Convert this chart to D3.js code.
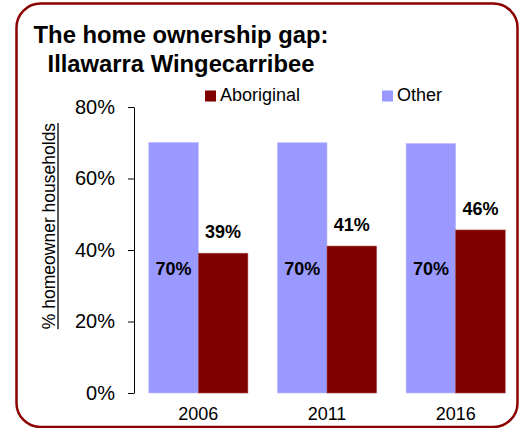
<!DOCTYPE html>
<html><head><meta charset="utf-8">
<script src="https://cdn.jsdelivr.net/npm/d3@7"></script>
<style>html,body{margin:0;padding:0;background:#fff;}svg{display:block;font-family:"Liberation Sans",Arial,Helvetica,sans-serif;}</style>
</head><body>
<svg id="c" width="528" height="428"></svg>
<script>
const years = ["2006", "2011", "2016"];
const seriesNames = ["Other", "Aboriginal"];
const otherValues = [70.1, 70.0, 69.8];
const aboriginalValues = [39.1, 41.1, 45.6];
const otherLabels = ["70%", "70%", "70%"];
const aboriginalLabels = ["39%", "41%", "46%"];
const yTicks = [0, 20, 40, 60, 80];
const titleLines = ["The home ownership gap:", "Illawarra Wingecarribee"];
const yTitle = "% homeowner households";
const colors = {Other: "#9999FF", Aboriginal: "#800000"};

const svg = d3.select("#c");
// frame
svg.append("rect").attr("x", 16.5).attr("y", 3.5).attr("width", 501).attr("height", 423.5)
  .attr("rx", 24).attr("ry", 24).attr("fill", "#fff").attr("stroke", "#8B0000").attr("stroke-width", 2.5);

// title
svg.append("text").attr("x", 181).attr("y", 43).attr("text-anchor", "middle")
  .attr("font-weight", "bold").attr("font-size", 23.8).text(titleLines[0]);
svg.append("text").attr("x", 181).attr("y", 72).attr("text-anchor", "middle")
  .attr("font-weight", "bold").attr("font-size", 23.8).text(titleLines[1]);

const y = d3.scaleLinear().domain([0, 80]).range([393, 107]);
const x0 = d3.scaleBand().domain(years).range([134, 520]).paddingInner(0.23).paddingOuter(0.115);
const x1 = d3.scaleBand().domain(seriesNames).range([0, x0.bandwidth()]);

const data = years.map((yr, i) => ({year: yr, vals: [
  {s: "Other", v: otherValues[i], label: otherLabels[i]},
  {s: "Aboriginal", v: aboriginalValues[i], label: aboriginalLabels[i]}]}));

const g = svg.append("g");
const grp = g.selectAll("g.grp").data(data).join("g").attr("class", "grp")
  .attr("transform", d => `translate(${x0(d.year)},0)`);
grp.selectAll("rect").data(d => d.vals).join("rect")
  .attr("x", d => x1(d.s)).attr("width", x1.bandwidth())
  .attr("y", d => y(d.v)).attr("height", d => y(0) - y(d.v))
  .attr("fill", d => colors[d.s])
  .attr("stroke", d => d.s === "Other" ? "#BBBBFF" : "#A04040").attr("stroke-width", 0.6);
grp.selectAll("text").data(d => d.vals).join("text")
  .attr("x", d => x1(d.s) + x1.bandwidth() / 2)
  .attr("y", d => d.s === "Other" ? (y(0) + y(d.v)) / 2 + 7 : y(d.v) - 15)
  .attr("text-anchor", "middle").attr("font-weight", "bold").attr("font-size", 18)
  .attr("fill", "#000").text(d => d.label);

// y axis
const ya = svg.append("g").attr("transform", "translate(134,0)")
  .call(d3.axisLeft(y).tickValues(yTicks).tickFormat(d => d + "%").tickSize(6).tickSizeOuter(0).tickPadding(13));
ya.selectAll("text").attr("font-size", 20).attr("font-family", "inherit").attr("fill", "#000");
ya.selectAll("line,path").attr("stroke", "#000");

// x labels
svg.append("g").selectAll("text").data(years).join("text")
  .attr("x", d => x0(d) + x0.bandwidth() / 2).attr("y", 420)
  .attr("text-anchor", "middle").attr("font-size", 18).text(d => d);

// y title
const yt = svg.append("text").attr("transform", "translate(55,226) rotate(-90)")
  .attr("text-anchor", "middle").attr("font-size", 17.5).text(yTitle);
const tl = yt.node().getComputedTextLength();
svg.append("line").attr("x1", 58).attr("x2", 58).attr("y1", 226 - tl / 2).attr("y2", 226 + tl / 2)
  .attr("stroke", "#000").attr("stroke-width", 1.3);

// legend
const legendItems = [{s: "Aboriginal", x: 205}, {s: "Other", x: 382}];
const lg = svg.append("g").selectAll("g").data(legendItems).join("g");
lg.append("rect").attr("x", d => d.x).attr("y", 90.5).attr("width", 11).attr("height", 11).attr("fill", d => colors[d.s]);
lg.append("text").attr("x", d => d.x + 15).attr("y", 101).attr("font-size", 18).text(d => d.s);
</script>
</body></html>
